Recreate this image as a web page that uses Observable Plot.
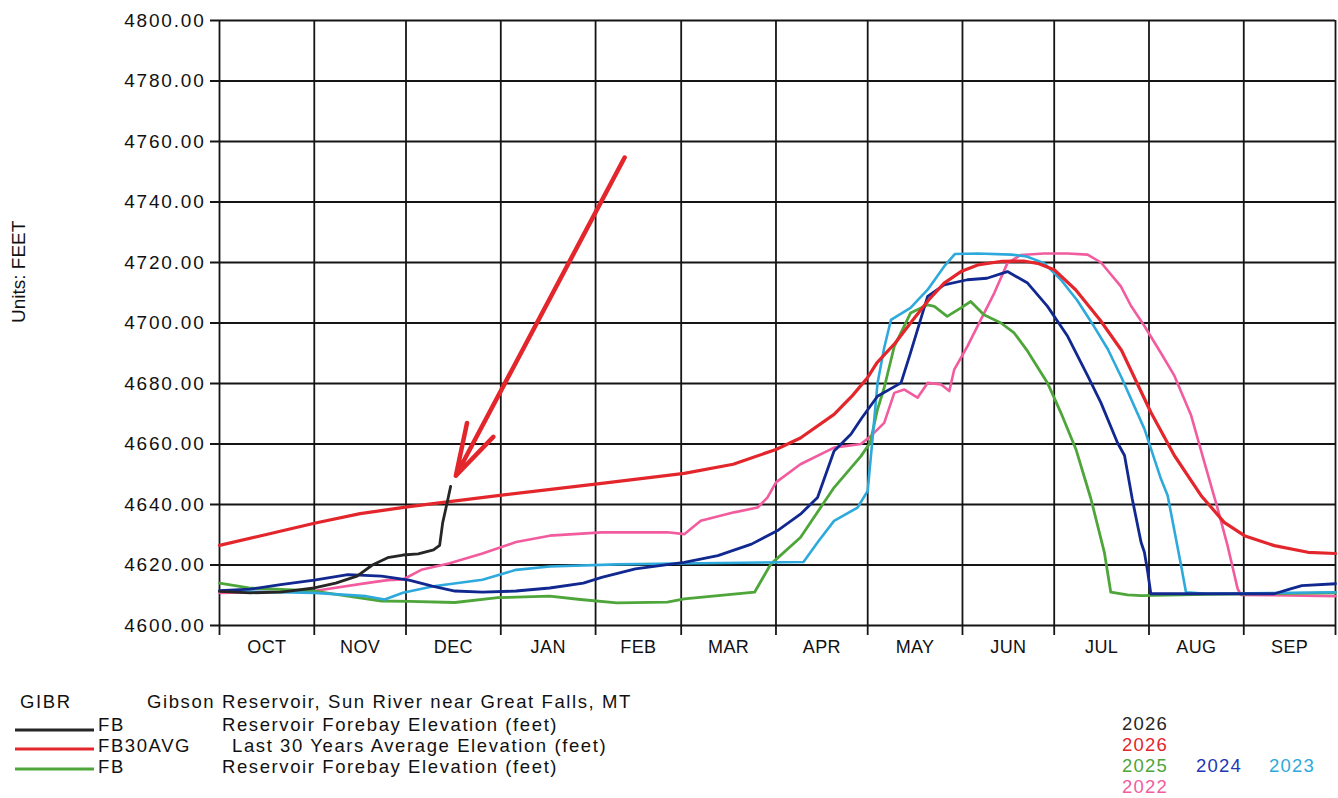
<!DOCTYPE html>
<html><head><meta charset="utf-8">
<script src="https://cdn.jsdelivr.net/npm/d3@7"></script>
<script src="https://cdn.jsdelivr.net/npm/@observablehq/plot@0.6"></script>
<style>
body{margin:0;background:#fff;font-family:"Liberation Sans",Arial,sans-serif;}
#wrap{position:relative;width:1338px;height:798px;overflow:hidden;background:#fff;}
#chart{position:absolute;left:0;top:0;}
#legend{position:absolute;left:0;top:670px;}
g[aria-label="y-axis tick label"] text{letter-spacing:1.8px}
g[aria-label="x-axis tick label"] text{letter-spacing:0.4px}
#legend text{font-family:"Liberation Sans",Arial,sans-serif;}
</style></head><body><div id="wrap"><div id="chart"></div><svg id="legend" width="1338" height="128"></svg></div>
<script>
// ---- data (day of water year from Oct 1, elevation in feet) ----
const monthLabels = ["OCT","NOV","DEC","JAN","FEB","MAR","APR","MAY","JUN","JUL","AUG","SEP"];
const yTicks = [4600,4620,4640,4660,4680,4700,4720,4740,4760,4780,4800];

const s2026 = [[0,4611.3],[10,4610.8],[20,4611.0],[31,4612.4],[38,4614.0],[45,4616.3],[50,4620.0],[55,4622.4],[60,4623.3],[65,4623.7],[70,4625.0],[72,4626.5],[73,4634.0],[74,4638.5],[75.6,4646.0]];

const s30avg = [[0,4626.5],[15,4630.0],[31,4633.8],[46,4637.0],[62,4639.3],[93,4643.2],[125,4647.0],[152,4650.3],[168,4653.3],[182,4658.2],[190,4662.0],[201,4669.8],[207,4676.0],[212,4682.0],[215,4686.8],[221,4693.4],[226,4700.0],[232,4707.7],[237,4713.2],[242.5,4717.0],[248,4719.2],[256,4720.4],[263,4720.5],[268,4719.6],[273,4717.6],[280,4711.0],[288,4701.0],[295,4691.0],[299,4682.5],[304.6,4670.5],[312.3,4656.2],[321,4643.0],[328.6,4634.1],[335.2,4629.7],[345,4626.4],[356,4624.2],[365,4623.8]];

const s2025 = [[0,4614.0],[9.6,4612.4],[31,4611.4],[42,4609.7],[53,4608.1],[62,4608.0],[77,4607.6],[91,4609.2],[108,4609.7],[118,4608.6],[130,4607.5],[146.5,4607.7],[152,4608.8],[175,4611.0],[180.3,4620.3],[190,4629.1],[201,4645.6],[209.8,4656.0],[212.8,4660.4],[215.2,4671.4],[217.4,4678.6],[220.7,4692.3],[226,4703.3],[231.6,4706.0],[233.8,4705.5],[238,4702.2],[242.5,4705.0],[245.7,4707.1],[250,4702.7],[255.6,4700.0],[259.9,4696.7],[264.3,4690.7],[270.8,4680.2],[275.2,4670.3],[280.2,4658.0],[285,4641.9],[289.4,4624.2],[291.5,4611.0],[297,4610.1],[301.4,4609.9],[323,4610.3],[365,4610.8]];

const s2024 = [[0,4611.5],[10,4612.0],[20,4613.5],[31,4615.0],[42,4616.8],[53,4616.3],[62,4615.0],[69.6,4613.0],[77,4611.4],[86,4611.0],[97,4611.4],[108,4612.4],[119,4614.0],[125,4615.9],[136,4618.7],[152,4620.9],[163,4623.1],[174,4626.9],[182.4,4631.3],[190,4636.8],[195.6,4642.3],[201,4657.7],[206.5,4663.2],[210,4668.5],[215.2,4675.8],[222.9,4680.2],[226,4690.1],[231.6,4708.8],[237,4712.6],[244.6,4714.3],[251,4714.8],[257.7,4717.0],[264.3,4713.2],[270.8,4705.5],[277.4,4695.6],[284,4682.4],[288.3,4673.6],[293.7,4660.4],[296,4656.2],[298.5,4642.0],[301.4,4627.5],[302.5,4624.2],[303.6,4617.6],[304.6,4610.5],[323,4610.5],[345,4610.5],[350,4612.0],[354,4613.2],[365,4613.8]];

const s2023 = [[0,4611.4],[31,4610.8],[48,4609.7],[54,4608.6],[60,4610.8],[70,4613.0],[86,4615.1],[97,4618.4],[108,4619.5],[130,4620.2],[150,4620.5],[191,4621.0],[196,4628.0],[201,4634.6],[208.7,4639.0],[212,4644.5],[213.6,4662.0],[215.2,4680.0],[217.4,4691.8],[219.6,4701.0],[222,4702.5],[226,4705.0],[231.6,4711.0],[237,4718.7],[240.5,4722.8],[248,4723.0],[259,4722.6],[264,4722.0],[269.7,4719.8],[275.2,4714.3],[280.5,4707.5],[286,4698.9],[290.5,4691.4],[295,4682.0],[302.5,4665.0],[307.9,4648.5],[310.1,4643.0],[314.5,4619.8],[316.1,4611.0],[323,4610.5],[365,4611.0]];

const s2022 = [[0,4610.8],[31,4611.4],[48,4614.0],[55,4615.0],[60,4615.2],[66,4618.4],[75,4620.5],[86,4623.8],[97,4627.6],[108,4629.7],[125,4630.8],[146.5,4630.8],[152,4630.2],[157.4,4634.6],[168.3,4637.4],[176,4639.0],[179.2,4642.3],[182,4647.3],[190,4653.3],[201,4658.8],[209.8,4660.0],[213,4662.6],[217.4,4667.0],[220.7,4676.9],[224,4678.0],[228.3,4675.3],[231.6,4680.2],[236,4679.7],[238.7,4677.5],[240.3,4684.6],[244.6,4692.3],[249,4701.1],[253.4,4709.9],[257.7,4719.8],[262.1,4722.5],[269.7,4723.0],[277.4,4723.0],[283.9,4722.6],[288.3,4720.0],[294.8,4712.1],[298.1,4705.7],[302.5,4699.0],[307.9,4690.1],[312.3,4682.6],[317.8,4669.4],[322.1,4654.0],[326.5,4638.5],[329.7,4626.4],[333,4612.1],[334.1,4610.1],[345,4610.0],[365,4609.7]];

const arrowFrom = [132.5, 4754.7];
const arrowTo = [77.3, 4649.5];

const colors = {black:"#262626", red:"#e3262c", green:"#4ea63a", navy:"#10288f", cyan:"#2ea9dc", pink:"#f25c9e"};

// ---- helpers ----
const wyStart = Date.UTC(2025, 9, 1);
const toDate = d => new Date(wyStart + d * 864e5);
const rows = s => s.map(([d, v]) => ({date: toDate(d), value: v}));
const monthStarts = d3.range(13).map(i => new Date(Date.UTC(2025, 9 + i, 1)));
const monthMids = d3.range(12).map(i => new Date((+monthStarts[i] + +monthStarts[i + 1]) / 2));
const midLabel = d => monthLabels[(d.getUTCMonth() + 3) % 12];

const lineOpts = (c, w) => ({x: "date", y: "value", stroke: c, strokeWidth: w, strokeLinejoin: "round", strokeLinecap: "round"});

const chart = Plot.plot({
  width: 1338,
  height: 670,
  marginLeft: 219,
  marginRight: 3,
  marginTop: 20,
  marginBottom: 45,
  style: {fontFamily: "'Liberation Sans', Arial, sans-serif", background: "#fff", color: "#111"},
  x: {type: "utc", domain: [monthStarts[0], monthStarts[12]], axis: null},
  y: {domain: [4600, 4800], axis: null},
  marks: [
    Plot.ruleY(yTicks, {stroke: "#151515", strokeWidth: 1.8, insetLeft: -9}),
    Plot.ruleX(monthStarts, {stroke: "#151515", strokeWidth: 1.8, insetBottom: -10}),
    Plot.axisY({ticks: yTicks, tickSize: 0, tickPadding: 14, fontSize: 19, tickFormat: d => d.toFixed(2)}),
    Plot.axisX({ticks: monthMids, tickSize: 0, tickPadding: 15, fontSize: 18, tickFormat: midLabel}),
    Plot.text(["Units: FEET"], {frameAnchor: "left", dx: -201, rotate: -90, fontSize: 19, fill: "#111"}),
    Plot.line(rows(s2022), lineOpts(colors.pink, 2.6)),
    Plot.line(rows(s2025), lineOpts(colors.green, 2.8)),
    Plot.line(rows(s2023), lineOpts(colors.cyan, 2.6)),
    Plot.line(rows(s2024), lineOpts(colors.navy, 2.8)),
    Plot.line(rows(s30avg), lineOpts(colors.red, 3.2)),
    Plot.line(rows(s2026), lineOpts(colors.black, 2.8)),
    Plot.arrow([{x1: toDate(arrowFrom[0]), y1: arrowFrom[1], x2: toDate(arrowTo[0]), y2: arrowTo[1]}],
      {x1: "x1", y1: "y1", x2: "x2", y2: "y2", stroke: colors.red, strokeWidth: 4.5, headLength: 18, headAngle: 32})
  ]
});
document.getElementById("chart").appendChild(chart);

// ---- legend below the chart ----
const legendText = [
  {x: 20, y: 38, t: "GIBR", c: "#111"},
  {x: 147, y: 38, t: "Gibson Reservoir, Sun River near Great Falls, MT", c: "#111"},
  {x: 98, y: 61, t: "FB", c: "#111"},
  {x: 222, y: 61, t: "Reservoir Forebay Elevation (feet)", c: "#111"},
  {x: 98, y: 82, t: "FB30AVG", c: "#111"},
  {x: 232, y: 82, t: "Last 30 Years Average Elevation (feet)", c: "#111"},
  {x: 98, y: 103, t: "FB", c: "#111"},
  {x: 222, y: 103, t: "Reservoir Forebay Elevation (feet)", c: "#111"},
  {x: 1122, y: 60, t: "2026", c: colors.black},
  {x: 1122, y: 81, t: "2026", c: colors.red},
  {x: 1122, y: 102, t: "2025", c: colors.green},
  {x: 1196, y: 102, t: "2024", c: "#2236b8"},
  {x: 1269, y: 102, t: "2023", c: colors.cyan},
  {x: 1122, y: 123, t: "2022", c: colors.pink}
];
const legendLines = [
  {y: 60, c: colors.black},
  {y: 79, c: colors.red},
  {y: 99, c: colors.green}
];
const lg = d3.select("#legend");
lg.selectAll("line").data(legendLines).join("line")
  .attr("x1", 15).attr("x2", 94).attr("y1", d => d.y).attr("y2", d => d.y)
  .attr("stroke", d => d.c).attr("stroke-width", 3.2);
lg.selectAll("text").data(legendText).join("text")
  .attr("x", d => d.x).attr("y", d => d.y).attr("fill", d => d.c)
  .attr("font-size", 18.5)
  .attr("letter-spacing", d => /^\d{4}$/.test(d.t) ? 1.2 : 1.6)
  .text(d => d.t);
</script></body></html>
